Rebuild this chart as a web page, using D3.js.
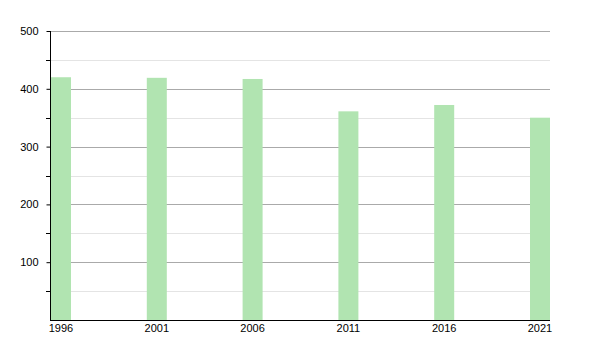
<!DOCTYPE html>
<html>
<head>
<meta charset="utf-8">
<script src="https://cdn.jsdelivr.net/npm/d3@7"></script>
<style>
    body { margin: 0; background: #fff; }
    svg text { font-family: "Liberation Sans", Arial, sans-serif; font-size: 11px; fill: #000; }
</style>
</head>
<body>
<svg id="chart"></svg>
<script>
// Data
var years = [1996, 2001, 2006, 2011, 2016, 2021];
var values = [420, 419, 417, 361, 372, 350];
var yTicks = [100, 200, 300, 400, 500];
var yMinor = [50, 150, 250, 350, 450];

var width = 600, height = 350;
var plotLeft = 50, plotRight = 550, plotTop = 31, plotBottom = 320;
var barW = 20;

var svg = d3.select("#chart").attr("width", width).attr("height", height);

var x = d3.scaleLinear().domain([1996, 2021]).range([plotLeft + 1, plotRight - barW]);
var y = d3.scaleLinear().domain([0, 500]).range([plotBottom, plotTop]);

// minor grid lines
svg.append("g").selectAll("line")
    .data(yMinor).enter().append("line")
    .attr("x1", plotLeft).attr("x2", plotRight)
    .attr("y1", d => Math.round(y(d)) + 0.5).attr("y2", d => Math.round(y(d)) + 0.5)
    .attr("stroke", "#e4e4e4");

// major grid lines
svg.append("g").selectAll("line")
    .data(yTicks).enter().append("line")
    .attr("x1", plotLeft).attr("x2", plotRight)
    .attr("y1", d => Math.round(y(d)) + 0.5).attr("y2", d => Math.round(y(d)) + 0.5)
    .attr("stroke", "#aaaaaa");

// bars
svg.append("g").selectAll("rect")
    .data(values).enter().append("rect")
    .attr("x", (d, i) => x(years[i]))
    .attr("y", d => y(d))
    .attr("width", barW)
    .attr("height", d => plotBottom - y(d))
    .attr("fill", "#b1e4b1");

// y axis with major + minor ticks
var yAxis = d3.axisLeft(y).tickValues(yTicks).tickSize(4).tickPadding(8).tickFormat(d3.format("d"));
var gy = svg.append("g").attr("transform", "translate(" + (plotLeft + 0.5) + ",0)").call(yAxis);
gy.select(".domain").attr("stroke", "#000").attr("d", "M0," + plotTop + "V" + plotBottom);
gy.selectAll(".tick line").attr("stroke", "#000");
gy.selectAll(".tick text").style("font-size", "11px");

svg.append("g").selectAll("line")
    .data(yMinor).enter().append("line")
    .attr("x1", plotLeft - 4).attr("x2", plotLeft)
    .attr("y1", d => Math.round(y(d)) + 0.5).attr("y2", d => Math.round(y(d)) + 0.5)
    .attr("stroke", "#000");

// x axis line
svg.append("line")
    .attr("x1", plotLeft).attr("x2", plotRight)
    .attr("y1", plotBottom + 0.5).attr("y2", plotBottom + 0.5)
    .attr("stroke", "#000");

// x labels centered under bars
svg.append("g").selectAll("text")
    .data(years).enter().append("text")
    .attr("x", d => x(d) + barW / 2)
    .attr("y", plotBottom + 12)
    .attr("text-anchor", "middle")
    .text(d => d);
</script>
</body>
</html>
